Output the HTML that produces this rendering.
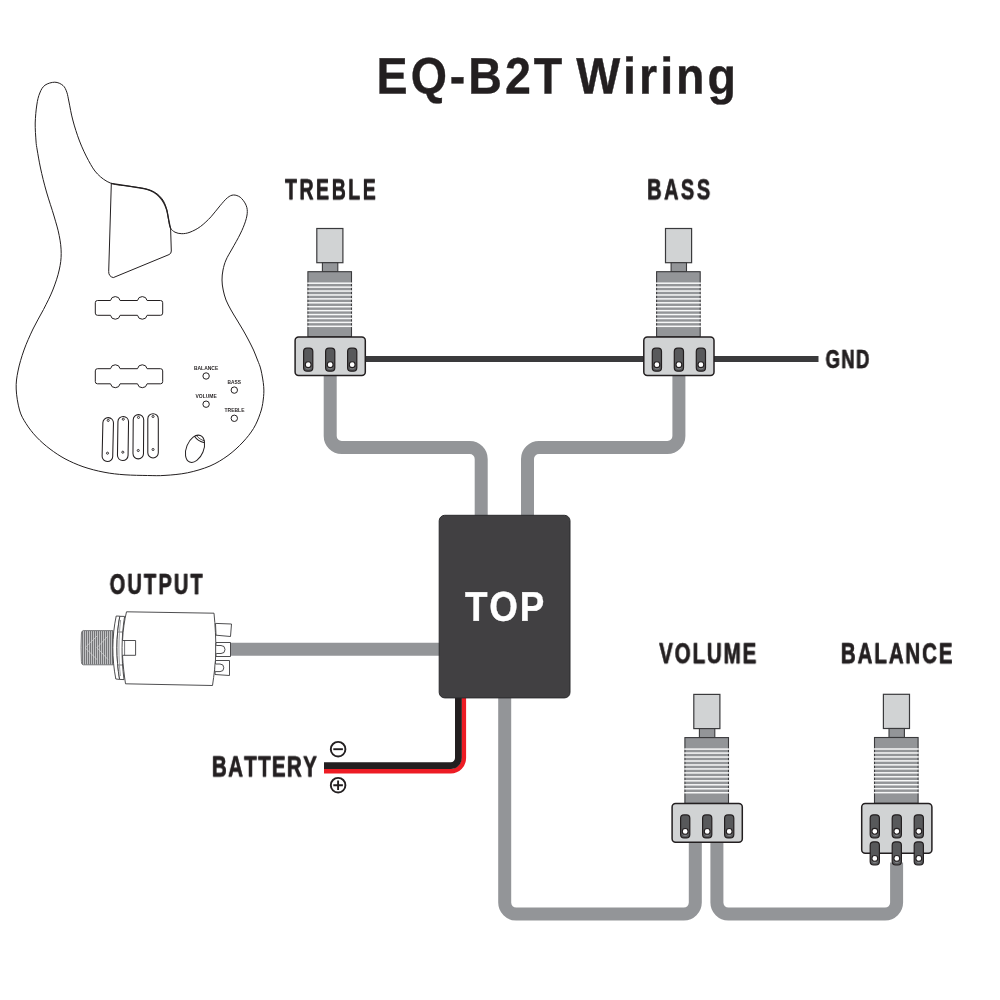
<!DOCTYPE html>
<html lang="en">
<head>
<meta charset="utf-8">
<title>EQ-B2T Wiring</title>
<style>
html,body{margin:0;padding:0;background:#fff;}
body{width:1000px;height:1000px;overflow:hidden;}
svg{display:block;will-change:transform;}
text{font-family:"Liberation Sans",Arial,Helvetica,sans-serif;font-weight:bold;font-kerning:none;white-space:pre;}
</style>
</head>
<body>
<svg width="1000" height="1000" viewBox="0 0 1000 1000">
<rect width="1000" height="1000" fill="#fff"/>
<defs>
<filter id="bold" x="-5%" y="-20%" width="110%" height="140%" color-interpolation-filters="sRGB"><feComponentTransfer><feFuncA type="table" tableValues="0.000 0.155 0.300 0.435 0.558 0.670 0.769 0.854 0.924 0.975 1.000"/></feComponentTransfer></filter>
</defs>

<g fill="none" stroke="#939598" stroke-width="13" stroke-linejoin="round">
<path d="M330.2,370 L330.20,436.00 A11.5,11.5 0 0 0 341.70,447.50 L469.70,447.50 A11.5,11.5 0 0 1 481.20,459.00 L481.2,520"/>
<path d="M678.9,370 L678.90,436.00 A11.5,11.5 0 0 1 667.40,447.50 L539.00,447.50 A11.5,11.5 0 0 0 527.50,459.00 L527.5,520"/>
<path d="M228,649.3 L445,649.3"/>
<path d="M504.7,690 L504.70,902.60 A11.5,11.5 0 0 0 516.20,914.10 L683.80,914.10 A11.5,11.5 0 0 0 695.30,902.60 L695.3,838"/>
<path d="M716.9,838 L716.90,902.60 A11.5,11.5 0 0 0 728.40,914.10 L885.10,914.10 A11.5,11.5 0 0 0 896.60,902.60 L896.6,862.5"/>
</g>
<path d="M360,358.9 L818.5,358.9" stroke="#3a3a3c" stroke-width="6" fill="none"/>
<path d="M463.8,690 L463.80,758.10 A13,13 0 0 1 450.80,771.10 L324,771.1" stroke="#ed1c24" stroke-width="4.6" fill="none"/>
<path d="M458.4,690 L458.40,758.00 A7.6,7.6 0 0 1 450.80,765.60 L324,765.6" stroke="#231f20" stroke-width="6.8" fill="none"/>
<g fill="none" stroke="#231f20" stroke-width="1.9"><circle cx="338.1" cy="749.2" r="7.3"/><path d="M333.3,749.2h9.6"/><circle cx="338.1" cy="785.2" r="7.3"/><path d="M333.3,785.2h9.6M338.1,780.4v9.6"/></g>
<rect x="439.2" y="515.3" width="130.8" height="182.6" rx="5.5" fill="#414042" stroke="#2b2b2d" stroke-width="1"/>
<g transform="translate(330.2,336.6)"><rect x="-13.4" y="-108.1" width="26.1" height="34.2" fill="#d1d3d4" stroke="#3a3a3c" stroke-width="1.2"/><rect x="-7.8" y="-73.9" width="15.4" height="9" fill="#939598" stroke="#3a3a3c" stroke-width="1.1"/><rect x="-22.3" y="-64.9" width="43.6" height="65.0" fill="#939598" stroke="#3a3a3c" stroke-width="1.1"/><rect x="-23" y="-54.15" width="45" height="1.5" fill="#fff" opacity="0.93"/><rect x="-23" y="-50.23" width="45" height="1.5" fill="#fff" opacity="0.93"/><rect x="-23" y="-46.31" width="45" height="1.5" fill="#fff" opacity="0.93"/><rect x="-23" y="-42.39" width="45" height="1.5" fill="#fff" opacity="0.93"/><rect x="-23" y="-38.47" width="45" height="1.5" fill="#fff" opacity="0.93"/><rect x="-23" y="-34.55" width="45" height="1.5" fill="#fff" opacity="0.93"/><rect x="-23" y="-30.63" width="45" height="1.5" fill="#fff" opacity="0.93"/><rect x="-23" y="-26.71" width="45" height="1.5" fill="#fff" opacity="0.93"/><rect x="-23" y="-22.79" width="45" height="1.5" fill="#fff" opacity="0.93"/><rect x="-23" y="-18.87" width="45" height="1.5" fill="#fff" opacity="0.93"/><rect x="-23" y="-14.95" width="45" height="1.5" fill="#fff" opacity="0.93"/><rect x="-23" y="-11.03" width="45" height="1.5" fill="#fff" opacity="0.93"/><rect x="-35.1" y="0.3" width="70.2" height="38.6" rx="3.5" fill="#d1d3d4" stroke="#231f20" stroke-width="1.5"/><rect x="-26.6" y="11.6" width="9.2" height="23.0" rx="3.4" fill="#58595b" stroke="#231f20" stroke-width="1.2"/><path d="M-25.6,30.3 Q-22,35.7 -18.4,30.3 Q-22,32.7 -25.6,30.3Z" fill="#808285"/><circle cx="-22" cy="28.1" r="2.9" fill="#fff" stroke="#231f20" stroke-width="1.1"/><rect x="-4.6" y="11.6" width="9.2" height="23.0" rx="3.4" fill="#58595b" stroke="#231f20" stroke-width="1.2"/><path d="M-3.6,30.3 Q0,35.7 3.6,30.3 Q0,32.7 -3.6,30.3Z" fill="#808285"/><circle cx="0" cy="28.1" r="2.9" fill="#fff" stroke="#231f20" stroke-width="1.1"/><rect x="17.4" y="11.6" width="9.2" height="23.0" rx="3.4" fill="#58595b" stroke="#231f20" stroke-width="1.2"/><path d="M18.4,30.3 Q22,35.7 25.6,30.3 Q22,32.7 18.4,30.3Z" fill="#808285"/><circle cx="22" cy="28.1" r="2.9" fill="#fff" stroke="#231f20" stroke-width="1.1"/></g>
<g transform="translate(678.9,336.6)"><rect x="-13.4" y="-108.1" width="26.1" height="34.2" fill="#d1d3d4" stroke="#3a3a3c" stroke-width="1.2"/><rect x="-7.8" y="-73.9" width="15.4" height="9" fill="#939598" stroke="#3a3a3c" stroke-width="1.1"/><rect x="-22.3" y="-64.9" width="43.6" height="65.0" fill="#939598" stroke="#3a3a3c" stroke-width="1.1"/><rect x="-23" y="-54.15" width="45" height="1.5" fill="#fff" opacity="0.93"/><rect x="-23" y="-50.23" width="45" height="1.5" fill="#fff" opacity="0.93"/><rect x="-23" y="-46.31" width="45" height="1.5" fill="#fff" opacity="0.93"/><rect x="-23" y="-42.39" width="45" height="1.5" fill="#fff" opacity="0.93"/><rect x="-23" y="-38.47" width="45" height="1.5" fill="#fff" opacity="0.93"/><rect x="-23" y="-34.55" width="45" height="1.5" fill="#fff" opacity="0.93"/><rect x="-23" y="-30.63" width="45" height="1.5" fill="#fff" opacity="0.93"/><rect x="-23" y="-26.71" width="45" height="1.5" fill="#fff" opacity="0.93"/><rect x="-23" y="-22.79" width="45" height="1.5" fill="#fff" opacity="0.93"/><rect x="-23" y="-18.87" width="45" height="1.5" fill="#fff" opacity="0.93"/><rect x="-23" y="-14.95" width="45" height="1.5" fill="#fff" opacity="0.93"/><rect x="-23" y="-11.03" width="45" height="1.5" fill="#fff" opacity="0.93"/><rect x="-35.1" y="0.3" width="70.2" height="38.6" rx="3.5" fill="#d1d3d4" stroke="#231f20" stroke-width="1.5"/><rect x="-26.6" y="11.6" width="9.2" height="23.0" rx="3.4" fill="#58595b" stroke="#231f20" stroke-width="1.2"/><path d="M-25.6,30.3 Q-22,35.7 -18.4,30.3 Q-22,32.7 -25.6,30.3Z" fill="#808285"/><circle cx="-22" cy="28.1" r="2.9" fill="#fff" stroke="#231f20" stroke-width="1.1"/><rect x="-4.6" y="11.6" width="9.2" height="23.0" rx="3.4" fill="#58595b" stroke="#231f20" stroke-width="1.2"/><path d="M-3.6,30.3 Q0,35.7 3.6,30.3 Q0,32.7 -3.6,30.3Z" fill="#808285"/><circle cx="0" cy="28.1" r="2.9" fill="#fff" stroke="#231f20" stroke-width="1.1"/><rect x="17.4" y="11.6" width="9.2" height="23.0" rx="3.4" fill="#58595b" stroke="#231f20" stroke-width="1.2"/><path d="M18.4,30.3 Q22,35.7 25.6,30.3 Q22,32.7 18.4,30.3Z" fill="#808285"/><circle cx="22" cy="28.1" r="2.9" fill="#fff" stroke="#231f20" stroke-width="1.1"/></g>
<g transform="translate(707.2,803.3)"><rect x="-13.4" y="-108.89999999999999" width="26.1" height="34.2" fill="#d1d3d4" stroke="#3a3a3c" stroke-width="1.2"/><rect x="-7.8" y="-74.7" width="15.4" height="9" fill="#939598" stroke="#3a3a3c" stroke-width="1.1"/><rect x="-22.3" y="-65.7" width="43.6" height="65.8" fill="#939598" stroke="#3a3a3c" stroke-width="1.1"/><rect x="-23" y="-54.95" width="45" height="1.5" fill="#fff" opacity="0.93"/><rect x="-23" y="-50.98" width="45" height="1.5" fill="#fff" opacity="0.93"/><rect x="-23" y="-47.01" width="45" height="1.5" fill="#fff" opacity="0.93"/><rect x="-23" y="-43.05" width="45" height="1.5" fill="#fff" opacity="0.93"/><rect x="-23" y="-39.08" width="45" height="1.5" fill="#fff" opacity="0.93"/><rect x="-23" y="-35.11" width="45" height="1.5" fill="#fff" opacity="0.93"/><rect x="-23" y="-31.14" width="45" height="1.5" fill="#fff" opacity="0.93"/><rect x="-23" y="-27.17" width="45" height="1.5" fill="#fff" opacity="0.93"/><rect x="-23" y="-23.21" width="45" height="1.5" fill="#fff" opacity="0.93"/><rect x="-23" y="-19.24" width="45" height="1.5" fill="#fff" opacity="0.93"/><rect x="-23" y="-15.27" width="45" height="1.5" fill="#fff" opacity="0.93"/><rect x="-23" y="-11.30" width="45" height="1.5" fill="#fff" opacity="0.93"/><rect x="-35.1" y="0.3" width="70.2" height="38.6" rx="3.5" fill="#d1d3d4" stroke="#231f20" stroke-width="1.5"/><rect x="-26.6" y="11.6" width="9.2" height="23.0" rx="3.4" fill="#58595b" stroke="#231f20" stroke-width="1.2"/><path d="M-25.6,30.3 Q-22,35.7 -18.4,30.3 Q-22,32.7 -25.6,30.3Z" fill="#808285"/><circle cx="-22" cy="28.1" r="2.9" fill="#fff" stroke="#231f20" stroke-width="1.1"/><rect x="-4.6" y="11.6" width="9.2" height="23.0" rx="3.4" fill="#58595b" stroke="#231f20" stroke-width="1.2"/><path d="M-3.6,30.3 Q0,35.7 3.6,30.3 Q0,32.7 -3.6,30.3Z" fill="#808285"/><circle cx="0" cy="28.1" r="2.9" fill="#fff" stroke="#231f20" stroke-width="1.1"/><rect x="17.4" y="11.6" width="9.2" height="23.0" rx="3.4" fill="#58595b" stroke="#231f20" stroke-width="1.2"/><path d="M18.4,30.3 Q22,35.7 25.6,30.3 Q22,32.7 18.4,30.3Z" fill="#808285"/><circle cx="22" cy="28.1" r="2.9" fill="#fff" stroke="#231f20" stroke-width="1.1"/></g>
<g transform="translate(896.8,803.2)"><rect x="-13.4" y="-108.89999999999999" width="26.1" height="34.2" fill="#d1d3d4" stroke="#3a3a3c" stroke-width="1.2"/><rect x="-7.8" y="-74.7" width="15.4" height="9" fill="#939598" stroke="#3a3a3c" stroke-width="1.1"/><rect x="-22.3" y="-65.7" width="43.6" height="65.8" fill="#939598" stroke="#3a3a3c" stroke-width="1.1"/><rect x="-23" y="-54.95" width="45" height="1.5" fill="#fff" opacity="0.93"/><rect x="-23" y="-50.98" width="45" height="1.5" fill="#fff" opacity="0.93"/><rect x="-23" y="-47.01" width="45" height="1.5" fill="#fff" opacity="0.93"/><rect x="-23" y="-43.05" width="45" height="1.5" fill="#fff" opacity="0.93"/><rect x="-23" y="-39.08" width="45" height="1.5" fill="#fff" opacity="0.93"/><rect x="-23" y="-35.11" width="45" height="1.5" fill="#fff" opacity="0.93"/><rect x="-23" y="-31.14" width="45" height="1.5" fill="#fff" opacity="0.93"/><rect x="-23" y="-27.17" width="45" height="1.5" fill="#fff" opacity="0.93"/><rect x="-23" y="-23.21" width="45" height="1.5" fill="#fff" opacity="0.93"/><rect x="-23" y="-19.24" width="45" height="1.5" fill="#fff" opacity="0.93"/><rect x="-23" y="-15.27" width="45" height="1.5" fill="#fff" opacity="0.93"/><rect x="-23" y="-11.30" width="45" height="1.5" fill="#fff" opacity="0.93"/><rect x="-35.1" y="0.3" width="70.2" height="49.8" rx="3.5" fill="#d1d3d4" stroke="#231f20" stroke-width="1.5"/><rect x="-26.6" y="11.6" width="9.2" height="23.0" rx="3.4" fill="#58595b" stroke="#231f20" stroke-width="1.2"/><path d="M-25.6,30.3 Q-22,35.7 -18.4,30.3 Q-22,32.7 -25.6,30.3Z" fill="#808285"/><circle cx="-22" cy="28.1" r="2.9" fill="#fff" stroke="#231f20" stroke-width="1.1"/><rect x="-4.6" y="11.6" width="9.2" height="23.0" rx="3.4" fill="#58595b" stroke="#231f20" stroke-width="1.2"/><path d="M-3.6,30.3 Q0,35.7 3.6,30.3 Q0,32.7 -3.6,30.3Z" fill="#808285"/><circle cx="0" cy="28.1" r="2.9" fill="#fff" stroke="#231f20" stroke-width="1.1"/><rect x="17.4" y="11.6" width="9.2" height="23.0" rx="3.4" fill="#58595b" stroke="#231f20" stroke-width="1.2"/><path d="M18.4,30.3 Q22,35.7 25.6,30.3 Q22,32.7 18.4,30.3Z" fill="#808285"/><circle cx="22" cy="28.1" r="2.9" fill="#fff" stroke="#231f20" stroke-width="1.1"/><rect x="-26.6" y="38.6" width="9.2" height="23.2" rx="3.4" fill="#58595b" stroke="#231f20" stroke-width="1.2"/><path d="M-25.6,57.400000000000006 Q-22,62.800000000000004 -18.4,57.400000000000006 Q-22,59.800000000000004 -25.6,57.400000000000006Z" fill="#808285"/><circle cx="-22" cy="55.2" r="2.9" fill="#fff" stroke="#231f20" stroke-width="1.1"/><rect x="-4.6" y="38.6" width="9.2" height="23.2" rx="3.4" fill="#58595b" stroke="#231f20" stroke-width="1.2"/><path d="M-3.6,57.400000000000006 Q0,62.800000000000004 3.6,57.400000000000006 Q0,59.800000000000004 -3.6,57.400000000000006Z" fill="#808285"/><circle cx="0" cy="55.2" r="2.9" fill="#fff" stroke="#231f20" stroke-width="1.1"/><rect x="17.4" y="38.6" width="9.2" height="23.2" rx="3.4" fill="#58595b" stroke="#231f20" stroke-width="1.2"/><path d="M18.4,57.400000000000006 Q22,62.800000000000004 25.6,57.400000000000006 Q22,59.800000000000004 18.4,57.400000000000006Z" fill="#808285"/><circle cx="22" cy="55.2" r="2.9" fill="#fff" stroke="#231f20" stroke-width="1.1"/></g>
<g fill="#fff" stroke="#3a3a3c" stroke-width="0.9" stroke-linejoin="round">
<path d="M113.2,630.6 L83.2,630.6 Q81.2,631 81.4,634 Q80.6,647.7 81.4,661.4 Q81.2,664.4 83.2,664.8 L113.2,664.8Z" fill="#cdcfd0" stroke="#6d6e70" stroke-width="0.9"/>
<path d="M82.6,631V664.4M84.6,631V664.4M86.6,631V664.4M88.6,631V664.4M90.6,631V664.4M92.6,631V664.4M94.6,631V664.4M96.6,631V664.4M98.6,631V664.4M100.6,631V664.4M102.6,631V664.4M104.6,631V664.4M106.6,631V664.4M108.6,631V664.4M110.6,631V664.4M112.6,631V664.4" fill="none" stroke="#6d6e70" stroke-width="1.05"/>
<path d="M85,647.7 L97,636 M85,647.7 L97,659.5 M97,647.7 L108,636 M97,647.7 L108,659.5" fill="none" stroke="#d9dadb" stroke-width="0.9" opacity="0.7"/>
<path d="M116.2,616 L119.8,616.2 C116,637 116,658 119.6,679.4 L115.8,679 C111.8,658 111.8,637 116.2,616Z"/>
<path d="M119.8,616.3 L124.6,616.4 C121.4,637 121.2,658 124,679.6 L119.6,679.4 C116,658 116,637 119.8,616.3Z"/>
<path d="M118.2,632 L122.6,632 M118.2,665 L122.4,665" fill="none" stroke-width="0.7"/>
<path d="M120.6,620 C118.4,638 118.4,658 120.4,676" fill="none" stroke="#9d9fa2" stroke-width="1"/>
<path d="M126.5,611.8 L214,613.2 C215.2,625 216,640 215.8,652 C215.6,664 214,675 212.5,685.5 L125.5,683.8 C124.2,675 123,665 122.5,655.3 L135.6,655.3 L135.6,640.5 L122.5,640.5 C123,630 124.5,620 126.5,611.8Z"/>
<path d="M124.6,640.5 L124.6,655.3" fill="none" stroke-width="0.7"/>
<path d="M215.5,623.4 L231.5,624 L230.5,636.5 L216,635.2Z"/>
<path d="M216,642.5 L230.5,642.5 L230.5,656.5 L216,656.5Z"/>
<path d="M216.3,645.5 L221,645.5 A4,4 0 0 1 221,653.5 L216.3,653.5"/>
<path d="M215.5,660.5 L229.5,660.5 L229.5,675.5 L215,674.5Z"/>
<path d="M215.5,664 L220,664 A3.8,3.8 0 0 1 220,671.6 L215.2,671.6"/>
</g>

<g fill="none" stroke="#231f20" stroke-width="1" stroke-linejoin="round">
<path d="M54.8,82.2C57.8,82.2 61.0,83.8 63.0,85.5C65.0,87.2 65.8,89.5 66.8,92.2C67.8,95.0 68.0,97.4 69.0,102.0C70.0,106.6 71.0,113.5 72.8,120.0C74.5,126.5 76.9,134.2 79.5,141.0C82.1,147.8 85.5,155.0 88.5,160.5C91.5,166.0 93.8,170.2 97.5,174.0C101.2,177.8 105.6,181.2 111.0,183.3C116.4,185.4 124.3,185.4 130.0,186.3C135.7,187.2 140.8,187.6 145.0,188.7C149.2,189.8 152.5,190.8 155.5,192.8C158.5,194.7 161.1,197.4 163.0,200.2C164.9,203.1 165.8,206.6 166.8,210.0C167.7,213.4 168.1,217.5 168.7,220.5C169.3,223.5 169.4,226.1 170.5,228.0C171.6,229.9 173.1,231.2 175.0,232.2C176.9,233.1 179.2,233.7 181.8,233.7C184.2,233.7 186.9,233.4 190.0,232.2C193.1,231.0 197.0,229.1 200.5,226.5C204.0,223.9 207.8,220.2 211.0,216.8C214.2,213.3 217.2,209.0 220.0,205.8C222.8,202.6 225.2,199.5 227.5,197.7C229.8,195.9 231.4,195.1 233.5,195.0C235.6,194.9 238.2,195.8 240.2,197.2C242.2,198.8 244.3,201.6 245.5,204.0C246.7,206.4 247.3,208.6 247.3,211.5C247.3,214.4 246.7,217.5 245.5,221.2C244.3,225.0 242.5,229.4 240.2,234.0C238.0,238.6 234.4,244.7 232.0,249.0C229.6,253.3 227.5,256.5 226.0,260.0C224.5,263.5 223.7,266.7 223.0,270.0C222.3,273.3 222.0,276.7 222.0,280.0C222.0,283.3 222.5,286.7 223.2,290.0C223.9,293.3 224.7,296.7 226.0,300.0C227.3,303.3 229.2,306.7 231.0,310.0C232.8,313.3 235.0,316.7 237.0,320.0C239.0,323.3 241.1,326.7 243.0,330.0C244.9,333.3 246.8,336.7 248.5,340.0C250.2,343.3 252.0,346.7 253.5,350.0C255.0,353.3 256.2,356.7 257.5,360.0C258.8,363.3 260.0,365.6 261.0,370.0C262.0,374.4 263.3,381.5 263.7,386.5C264.1,391.5 263.8,395.5 263.2,400.0C262.7,404.5 261.9,408.8 260.2,413.5C258.6,418.2 256.4,423.8 253.5,428.5C250.6,433.2 247.2,437.5 243.0,442.0C238.8,446.5 233.5,451.5 228.0,455.5C222.5,459.5 216.8,463.1 210.0,466.0C203.2,468.9 195.0,471.2 187.5,472.8C180.0,474.3 171.7,475.0 165.0,475.4C158.3,475.9 154.2,475.6 147.5,475.5C140.8,475.4 132.2,475.3 125.0,474.8C117.8,474.3 111.0,473.6 104.0,472.2C97.0,470.9 89.5,468.9 83.0,466.7C76.5,464.4 70.5,461.7 65.0,458.8C59.5,455.8 54.8,452.6 50.0,449.0C45.2,445.4 40.5,441.2 36.5,437.0C32.5,432.8 28.8,428.0 26.0,423.5C23.2,419.0 21.1,415.8 19.5,410.0C17.9,404.2 16.4,395.5 16.2,389.0C15.9,382.5 16.7,377.5 18.0,371.0C19.3,364.5 21.5,357.0 24.0,350.0C26.5,343.0 29.8,335.8 33.0,329.0C36.2,322.2 40.2,316.0 43.5,309.5C46.8,303.0 50.2,296.6 52.8,290.0C55.4,283.4 57.9,276.1 59.2,270.0C60.6,263.9 61.2,259.2 61.2,253.5C61.2,247.8 60.5,241.8 59.2,235.5C58.0,229.2 56.1,223.2 54.0,216.0C51.9,208.8 48.8,200.0 46.5,192.0C44.2,184.0 42.0,175.0 40.5,168.0C39.0,161.0 38.0,154.5 37.2,150.0C36.5,145.5 36.3,145.5 36.0,141.0C35.7,136.5 35.1,129.0 35.2,123.0C35.4,117.0 36.0,110.0 36.8,105.0C37.5,100.0 38.4,96.3 39.8,93.0C41.1,89.7 42.5,87.0 45.0,85.2C47.5,83.4 51.8,82.2 54.8,82.2Z"/>
<path d="M111.3,184 L108.7,271.5 Q108.6,276.5 113.3,277.6 L169,254.6 Q171.4,253.6 171.3,251 L170.6,228" />
<path d="M111,183.3 C130,186.3 140,187.5 147,189.3 C158,192.5 164,201 166.75,210 C168,215 169,223 170.5,228" stroke-width="1.3"/>
<path d="M97.5,300.5L110.50,300.5 A4.9,4.9 0 0 1 120.10,300.5L137.50,300.5 A4.9,4.9 0 0 1 147.10,300.5L160.5,300.5 Q162.7,300.5 162.7,302.7 L162.7,313.1 Q162.7,315.3 160.5,315.3L147.10,315.3 A4.9,4.9 0 0 1 137.50,315.3L120.10,315.3 A4.9,4.9 0 0 1 110.50,315.3L97.5,315.3 Q95.3,315.3 95.3,313.1 L95.3,302.7 Q95.3,300.5 97.5,300.5Z"/>
<path d="M97.5,368.7L110.50,368.7 A4.9,4.9 0 0 1 120.10,368.7L137.50,368.7 A4.9,4.9 0 0 1 147.10,368.7L160.5,368.7 Q162.7,368.7 162.7,370.9 L162.7,381.6 Q162.7,383.8 160.5,383.8L147.10,383.8 A4.9,4.9 0 0 1 137.50,383.8L120.10,383.8 A4.9,4.9 0 0 1 110.50,383.8L97.5,383.8 Q95.3,383.8 95.3,381.6 L95.3,370.9 Q95.3,368.7 97.5,368.7Z"/>
<g transform="rotate(1.3 107.80 439.60)" stroke-width="1.05"><rect x="102.50" y="417.60" width="10.60" height="44.00" rx="5.30"/><circle cx="107.80" cy="420.4" r="1.05" stroke-width="0.9"/><circle cx="107.80" cy="453.2" r="1.05" stroke-width="0.9"/></g>
<g transform="rotate(0.8 123.00 438.50)" stroke-width="1.05"><rect x="117.70" y="416.40" width="10.60" height="44.20" rx="5.30"/><circle cx="123.00" cy="419.2" r="1.05" stroke-width="0.9"/><circle cx="123.00" cy="452.2" r="1.05" stroke-width="0.9"/></g>
<g transform="rotate(0.4 138.35 436.75)" stroke-width="1.05"><rect x="133.10" y="414.60" width="10.50" height="44.30" rx="5.25"/><circle cx="138.35" cy="417.4" r="1.05" stroke-width="0.9"/><circle cx="138.35" cy="450.5" r="1.05" stroke-width="0.9"/></g>
<g transform="rotate(0.0 153.05 435.80)" stroke-width="1.05"><rect x="147.80" y="413.70" width="10.50" height="44.20" rx="5.25"/><circle cx="153.05" cy="416.5" r="1.05" stroke-width="0.9"/><circle cx="153.05" cy="449.5" r="1.05" stroke-width="0.9"/></g>
<circle cx="206.1" cy="376" r="3.2"/><circle cx="234.3" cy="390.1" r="3.2"/><circle cx="206.1" cy="404.2" r="3.2"/><circle cx="234.3" cy="418.3" r="3.2"/>
<g transform="translate(195,448.8) rotate(22)"><ellipse cx="0" cy="0" rx="8.6" ry="14.3"/><path d="M-5.2,-11.4 C-2,-9.2 3,-8.6 6.6,-9.2"/><path d="M-3.6,-12.9 C-1,-11 3.4,-10.6 6.2,-10.9" stroke-width="0.7"/></g>
</g>
<text font-size="5.9" fill="#231f20" style="font-weight:bold" textLength="24.30" lengthAdjust="spacingAndGlyphs" x="193.95" y="369.8">BALANCE</text>
<text font-size="5.9" fill="#231f20" style="font-weight:bold" textLength="13.50" lengthAdjust="spacingAndGlyphs" x="227.55" y="383.9">BASS</text>
<text font-size="5.9" fill="#231f20" style="font-weight:bold" textLength="21.30" lengthAdjust="spacingAndGlyphs" x="195.45" y="398">VOLUME</text>
<text font-size="5.9" fill="#231f20" style="font-weight:bold" textLength="19.95" lengthAdjust="spacingAndGlyphs" x="224.55" y="412.1">TREBLE</text>

<text x="0" y="0" font-size="51.16" fill="#231f20" stroke="#231f20" stroke-width="0.4" stroke-linejoin="miter" style="letter-spacing:3.296px;word-spacing:-5.58px;" transform="translate(376.6,93.4) rotate(0.04) scale(0.9101,1)">EQ-B2T Wiring</text>
<text x="0" y="0" font-size="29.14" fill="#231f20" stroke="#231f20" stroke-width="0.35" stroke-linejoin="miter" filter="url(#bold)" style="letter-spacing:3.733px;" transform="translate(284.97,199.32) rotate(0.04) scale(0.6719,1)">TREBLE</text>
<text x="0" y="0" font-size="29.29" fill="#231f20" stroke="#231f20" stroke-width="0.35" stroke-linejoin="miter" filter="url(#bold)" style="letter-spacing:3.653px;" transform="translate(647.13,199.32) rotate(0.04) scale(0.6828,1)">BASS</text>
<text x="0" y="0" font-size="26.24" fill="#231f20" stroke="#231f20" stroke-width="0.35" stroke-linejoin="miter" filter="url(#bold)" style="letter-spacing:2.173px;" transform="translate(825.59,368.02) rotate(0.04) scale(0.7,1)">GND</text>
<text x="0" y="0" font-size="29.0" fill="#231f20" stroke="#231f20" stroke-width="0.35" stroke-linejoin="miter" filter="url(#bold)" style="letter-spacing:3.18px;" transform="translate(109.67,594.03) rotate(0.04) scale(0.6878,1)">OUTPUT</text>
<text x="0" y="0" font-size="29.29" fill="#231f20" stroke="#231f20" stroke-width="0.35" stroke-linejoin="miter" filter="url(#bold)" style="letter-spacing:1.794px;" transform="translate(211.87,776.43) rotate(0.04) scale(0.7049,1)">BATTERY</text>
<text x="0" y="0" font-size="29.0" fill="#231f20" stroke="#231f20" stroke-width="0.35" stroke-linejoin="miter" filter="url(#bold)" style="letter-spacing:2.828px;" transform="translate(659.22,663.23) rotate(0.04) scale(0.7028,1)">VOLUME</text>
<text x="0" y="0" font-size="29.0" fill="#231f20" stroke="#231f20" stroke-width="0.35" stroke-linejoin="miter" filter="url(#bold)" style="letter-spacing:2.706px;" transform="translate(840.85,663.23) rotate(0.04) scale(0.7072,1)">BALANCE</text>
<text x="0" y="0" font-size="41.57" fill="#fff" stroke="#fff" stroke-width="0.4" stroke-linejoin="miter" style="letter-spacing:1.997px;" transform="translate(465.1,620.8) rotate(0.04) scale(0.885,1)">TOP</text>
</svg>
</body>
</html>
